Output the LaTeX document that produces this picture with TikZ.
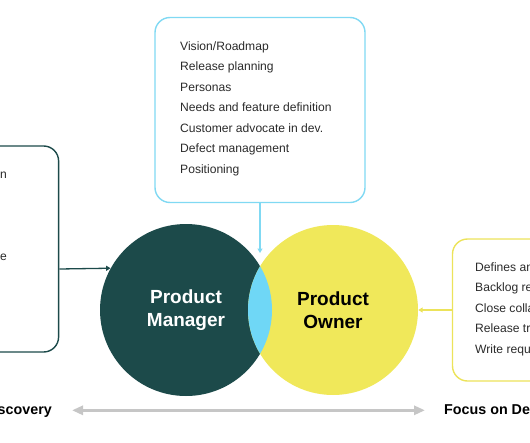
\documentclass[tikz,border=0pt]{standalone}
\usepackage{fontspec}
\setmainfont{Liberation Sans}
\usetikzlibrary{arrows.meta, positioning}

\definecolor{pmteal}{HTML}{1C4A4A}
\definecolor{poyellow}{HTML}{F0E85A}
\definecolor{overlapblue}{HTML}{6FD7F6}
\definecolor{boxblue}{HTML}{80D9F3}
\definecolor{boxyellow}{HTML}{ECE35A}
\definecolor{axisgray}{HTML}{C6C6C6}
\definecolor{listgray}{HTML}{2B2B2B}

\tikzset{
  listbox/.style={draw, line width=1.4pt, rounded corners=15pt, fill=white, inner sep=0pt},
  listtext/.style={font=\fontsize{12.1}{14}\selectfont, text=listgray, inner sep=0pt, anchor=base west},
  rolename/.style={circle, inner sep=0pt, align=center,
                   font=\fontsize{19}{23.3}\selectfont\bfseries},
  focuslabel/.style={font=\fontsize{14.3}{16}\selectfont\bfseries, inner sep=0pt},
}

\begin{document}
\begin{tikzpicture}[x=1pt, y=-1pt, >={Triangle[length=4.5pt, width=5pt]}]
  \useasboundingbox (0,0) rectangle (530,442);
  \clip (0,0) rectangle (530,442);

  % Boxes
  \node[listbox, draw=boxblue, minimum width=210pt, minimum height=185pt]
    (goals) at (260,110) {};
  \node[listbox, draw=pmteal, minimum width=210pt, minimum height=206pt]
    (leftbox) at (-46.4,249) {};
  \node[listbox, draw=boxyellow, minimum width=227pt, minimum height=142pt]
    (rightbox) at (566,310) {};

  % Box contents
  \foreach \entry [count=\i] in {Vision/Roadmap, Release planning, Personas,
      Needs and feature definition, Customer advocate in dev.,
      Defect management, Positioning}
    \node[listtext] (goal-\i) at (180, {50.3 + 20.5*(\i-1)}) {\entry};
  \foreach \entry [count=\i] in {Defines and prioritizes, Backlog refinement,
      Close collaboration, Release train, Write requirements}
    \node[listtext] (duty-\i) at (475, {271 + 20.6*(\i-1)}) {\entry};
  \node[listtext] (left-1) at (0,178) {n};
  \node[listtext] (left-2) at (0,260) {e};

  % Venn circles
  \node[rolename, fill=pmteal, text=white, minimum size=172pt]
    (pm) at (186,310) {Product\\Manager};
  \node[rolename, fill=poyellow, text=black, minimum size=170pt]
    (po) at (333,310) {Product\\Owner};
  \begin{scope}
    \clip (186,310) circle (86);
    \fill[overlapblue] (333,310) circle (85);
  \end{scope}

  % Connectors
  \coordinate (lenstop) at (260,253);
  \draw[->, boxblue, line width=1.3pt] (goals.south) -- (lenstop);
  \draw[->, pmteal, line width=1.3pt] ([yshift=-20pt]leftbox.east) -- (pm.151.5);
  \draw[->, boxyellow, line width=1.3pt] (rightbox.west) -- (po.east);

  % Focus axis
  \node[focuslabel, anchor=base east] (discovery) at (52,414) {Focus on Discovery};
  \node[focuslabel, anchor=base west] (delivery) at (444,414) {Focus on Delivery};
  \draw[<->, axisgray, line width=3pt, >={Triangle[length=11pt, width=9pt]},
        shorten <=20pt, shorten >=19pt] (discovery.east) -- (delivery.west);
\end{tikzpicture}
\end{document}
